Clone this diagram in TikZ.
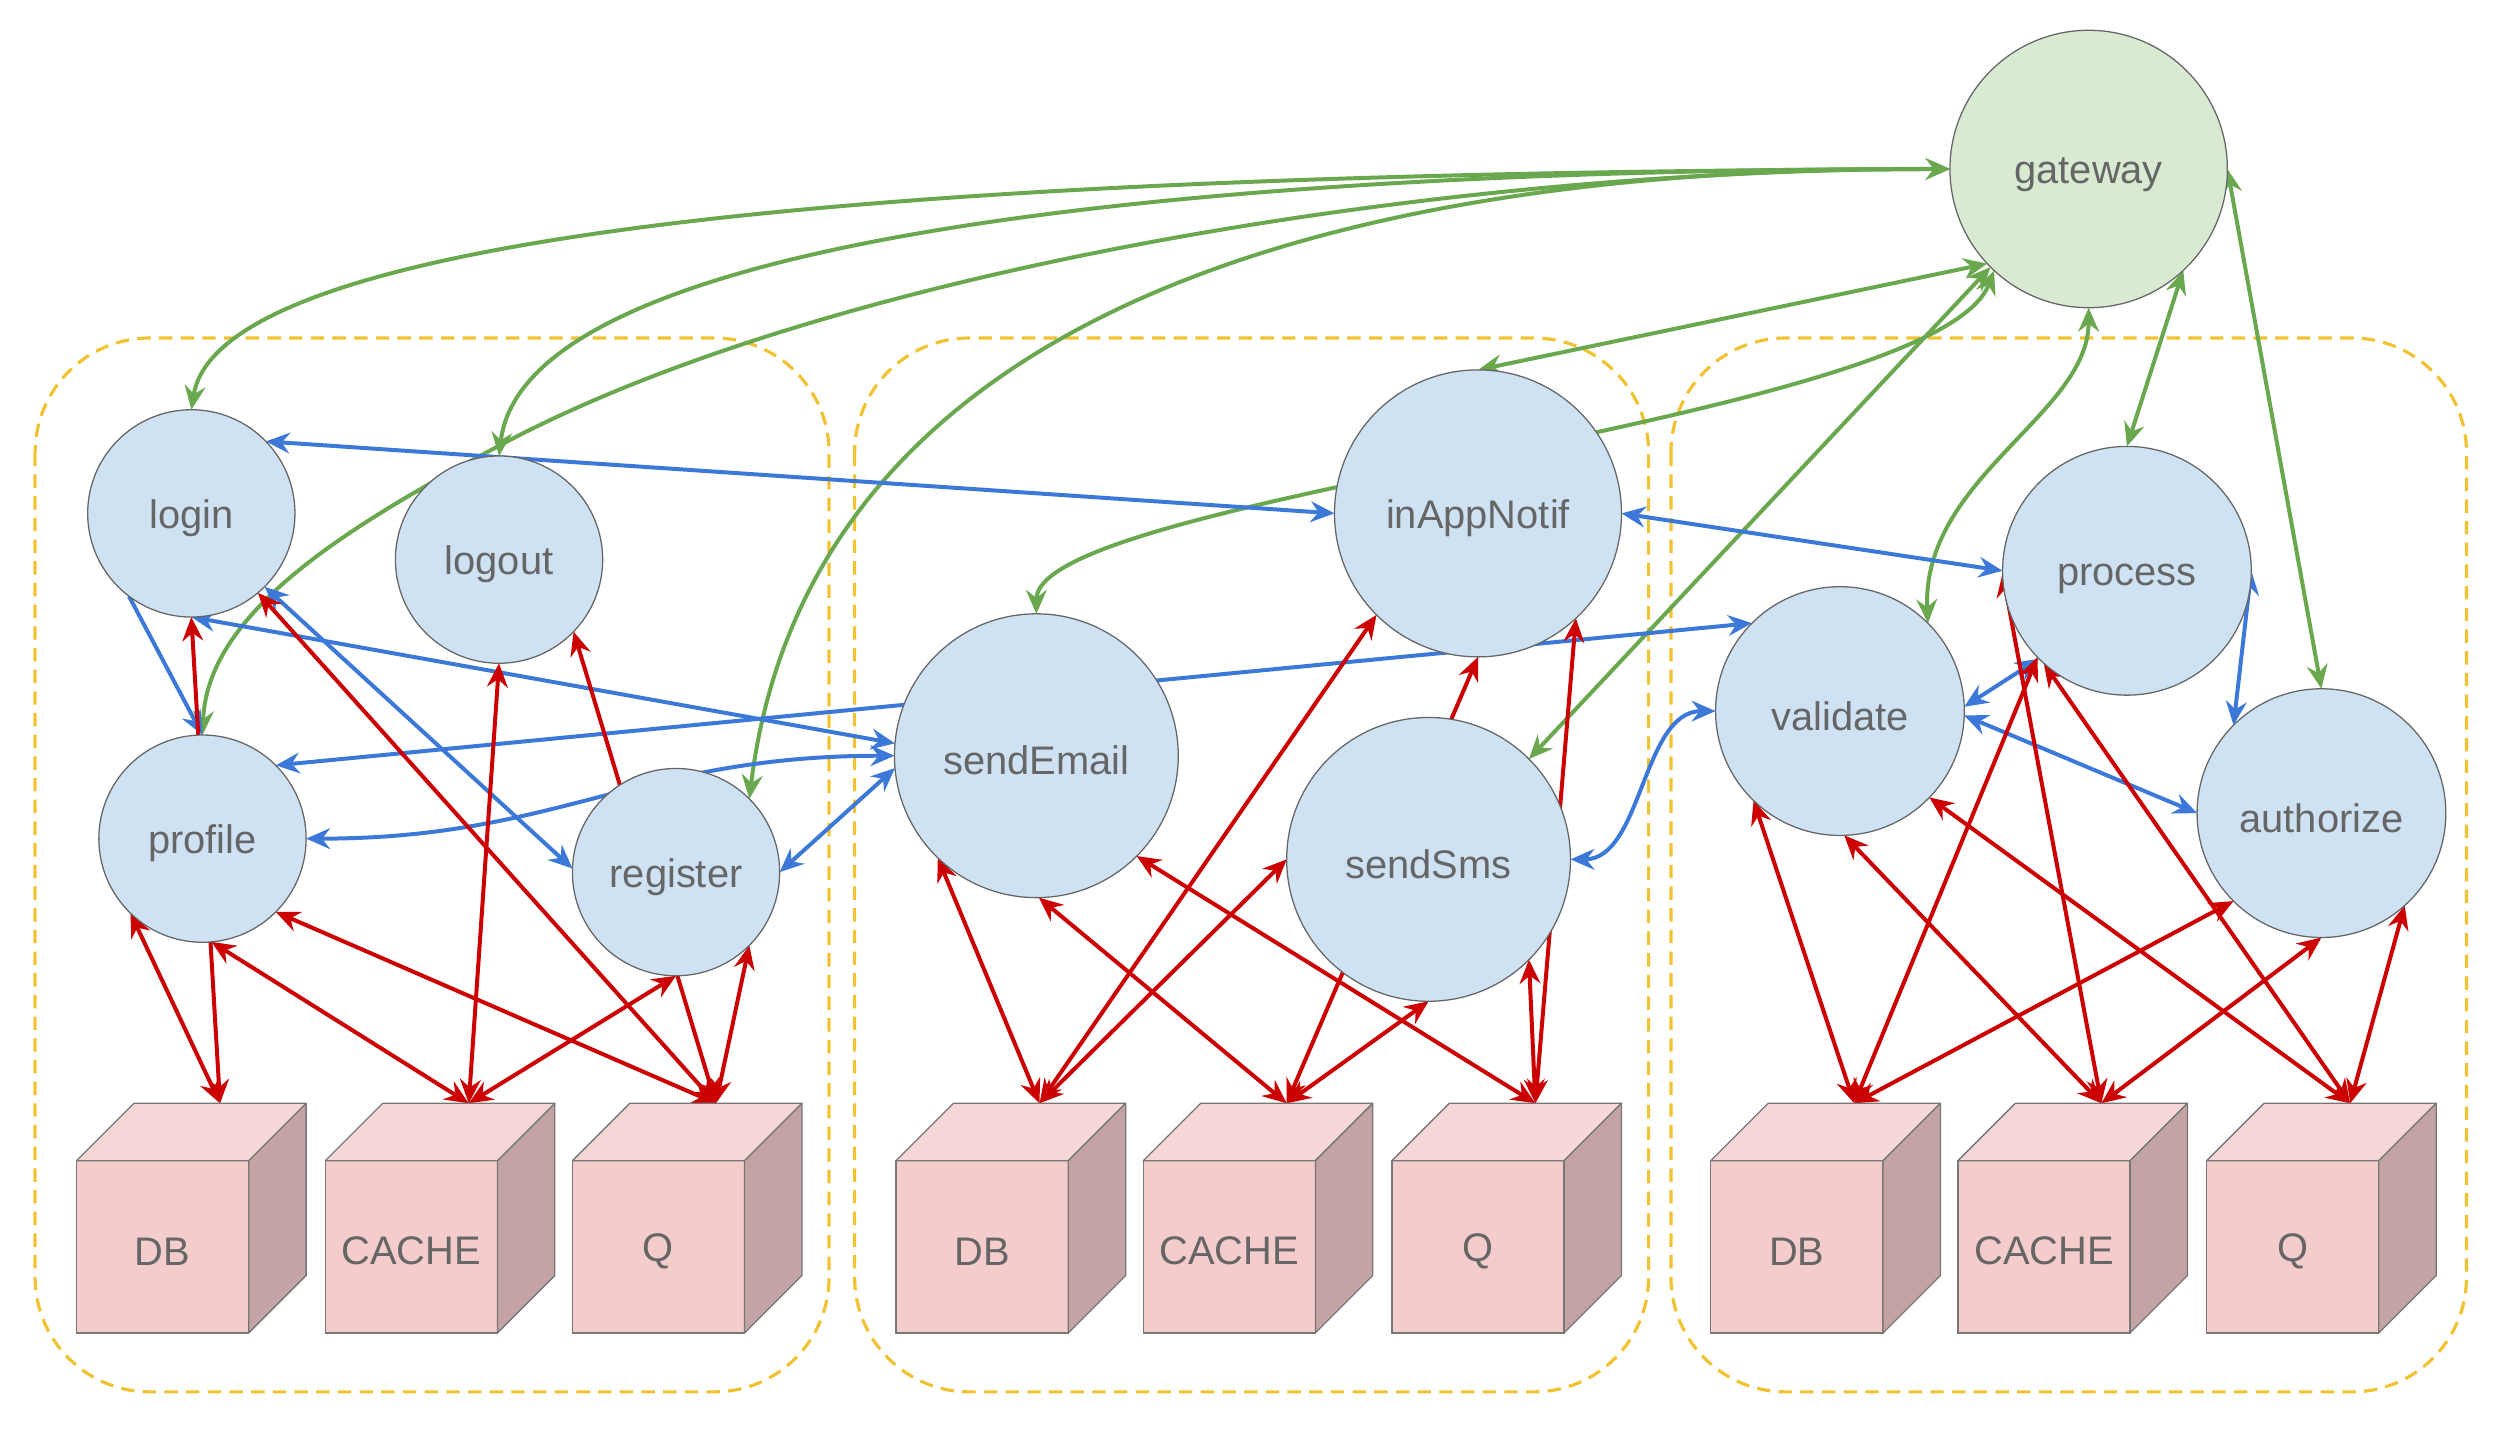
\documentclass[tikz,border=0pt]{standalone}
\usepackage{fontspec}
\setmainfont{Liberation Sans}
\usetikzlibrary{arrows.meta}
\definecolor{redc}{HTML}{CC0000}
\definecolor{bluec}{HTML}{3C78D8}
\definecolor{greenc}{HTML}{6AA84F}
\definecolor{grpc}{HTML}{F1C232}
\definecolor{svcfill}{HTML}{CFE2F3}
\definecolor{gwfill}{HTML}{D9EAD3}
\definecolor{txtc}{HTML}{666666}
\definecolor{cubefront}{HTML}{F4CCCC}
\definecolor{cubetop}{HTML}{F6D7D7}
\definecolor{cubeside}{HTML}{C3A3A4}
\definecolor{cubeline}{HTML}{777777}
\pgfdeclarelayer{bg}
\pgfdeclarelayer{edges}
\pgfsetlayers{bg,edges,main}
\tikzset{
  >={Stealth[length=7.5pt,width=6.5pt,inset=2.5pt]},
  svc/.style={circle, draw=black!60, line width=0.4pt, fill=svcfill, inner sep=0pt, outer sep=0pt,
    text=txtc, font=\fontsize{12.5}{15}\selectfont, text height=12pt},
  grp/.style={draw=grpc, line width=1pt, dash pattern=on 4.2pt off 2.6pt, rounded corners=36pt},
  conn/.style={line width=1.25pt, <->},
  redge/.style={conn, draw=redc},
  bedge/.style={conn, draw=bluec},
  gedge/.style={conn, draw=greenc},
  cubefr/.style={rectangle, draw=cubeline, line width=0.4pt, fill=cubefront, minimum width=54pt,
    minimum height=54pt, inner sep=0pt, outer sep=0pt, text=txtc, font=\fontsize{12.5}{15}\selectfont,
    text height=11.5pt},
  cubeface/.style={draw=cubeline, line width=0.4pt, line join=round}
}
\newcommand\mycube[3]{%
  \node[cubefr] (#1) at (#2+54,782) {#3};
  \filldraw[cubeface, fill=cubetop] (#1.north west) -- ++(36,-36) -- ++(108,0) -- (#1.north east) -- cycle;
  \filldraw[cubeface, fill=cubeside] (#1.north east) -- ++(36,-36) -- ++(0,108) -- (#1.south east) -- cycle;
  \coordinate (#1top) at (#2+90,692);
}
\begin{document}
\begin{tikzpicture}[x=0.5pt,y=-0.5pt]
\useasboundingbox (0,0) rectangle (1568,907.6);

% groups
\begin{pgfonlayer}{bg}
  \draw[grp] (22,212) rectangle (520,873);
  \draw[grp] (536,212) rectangle (1034,873);
  \draw[grp] (1048,212) rectangle (1547,873);
\end{pgfonlayer}

% service nodes
\node[svc, fill=gwfill, minimum size=87pt] (gateway) at (1310,106) {gateway};
\node[svc, minimum size=65pt] (login) at (120,322) {login};
\node[svc, minimum size=65pt] (logout) at (313,351) {logout};
\node[svc, minimum size=65pt] (profile) at (127,526) {profile};
\node[svc, minimum size=65pt] (register) at (424,547) {register};
\node[svc, minimum size=89pt] (sendEmail) at (650,474) {sendEmail};
\node[svc, minimum size=90pt] (inAppNotif) at (927,322) {inAppNotif};
\node[svc, minimum size=89pt] (sendSms) at (896,539) {sendSms};
\node[svc, minimum size=78pt] (validate) at (1154,446) {validate};
\node[svc, minimum size=78pt] (process) at (1334,358) {process};
\node[svc, minimum size=78pt] (authorize) at (1456,510) {authorize};

% data stores
\mycube{db1}{48}{DB}
\mycube{cache1}{204}{CACHE}
\mycube{q1}{359}{Q}
\mycube{db2}{562}{DB}
\mycube{cache2}{717}{CACHE}
\mycube{q2}{873}{Q}
\mycube{db3}{1073}{DB}
\mycube{cache3}{1228}{CACHE}
\mycube{q3}{1384}{Q}

\begin{pgfonlayer}{edges}
% green: gateway links
\draw[gedge] (gateway.180) .. controls (700,108) and (140,130) .. (login.90);
\draw[gedge] (gateway.180) .. controls (800,106) and (330,140) .. (logout.90);
\draw[gedge] (gateway.180) .. controls (900,106) and (520,170) .. (316,278)
                           .. controls (214,332) and (130,385) .. (profile.90);
\draw[gedge] (gateway.180) .. controls (800,104) and (505,215) .. (register.45);
\draw[gedge] (gateway.223) -- (inAppNotif.90);
\draw[gedge] (gateway.225) -- (sendSms.45);
\draw[gedge] (gateway.227) .. controls (1215,265) and (650,310) .. (sendEmail.90);
\draw[gedge] (gateway.270) .. controls (1310,260) and (1205,300) .. (validate.45);
\draw[gedge] (gateway.313) -- (process.90);
\draw[gedge] (gateway.0) -- (authorize.90);

% blue
\draw[bedge] (login.44) -- (inAppNotif.180);
\draw[draw=bluec, line width=1.25pt, ->] (login.233) -- (profile.90);
\draw[bedge] (login.270) -- (sendEmail.175);
\draw[bedge] (login.315) -- (register.178);
\draw[bedge] (profile.45) -- (validate.135);
\draw[bedge] (profile.0) .. controls (350,526) and (400,474) .. (sendEmail.180);
\draw[bedge] (register.0) -- (sendEmail.185);
\draw[bedge] (inAppNotif.0) -- (process.180);
\draw[bedge] (sendSms.0) .. controls (1030,539) and (1030,446) .. (validate.180);
\draw[bedge] (process.225) -- (validate.2);
\draw[bedge] (process.0) -- (authorize.135);
\draw[bedge] (validate.-2) -- (authorize.180);

% red: group 1
\draw[redge] (login.270) -- (db1top);
\draw[redge] (login.310) -- (q1top);
\draw[redge] (profile.226) -- (db1top);
\draw[redge] (profile.275) -- (cache1top);
\draw[redge] (profile.315) -- (q1top);
\draw[redge] (logout.270) -- (cache1top);
\draw[redge] (logout.316) -- (q1top);
\draw[redge] (register.270) -- (cache1top);
\draw[redge] (register.315) -- (q1top);
% red: group 2
\draw[redge] (sendEmail.226) -- (db2top);
\draw[redge] (sendEmail.271) -- (cache2top);
\draw[redge] (sendEmail.315) -- (q2top);
\draw[redge] (inAppNotif.225) -- (db2top);
\draw[redge] (inAppNotif.270) -- (cache2top);
\draw[redge] (inAppNotif.313) -- (q2top);
\draw[redge] (sendSms.180) -- (db2top);
\draw[redge] (sendSms.270) -- (cache2top);
\draw[redge] (sendSms.315) -- (q2top);
% red: group 3
\draw[redge] (validate.226) -- (db3top);
\draw[redge] (validate.272) -- (cache3top);
\draw[redge] (validate.316) -- (q3top);
\draw[redge] (process.181) -- (cache3top);
\draw[redge] (process.224) -- (db3top);
\draw[redge] (process.228) -- (q3top);
\draw[redge] (authorize.225) -- (db3top);
\draw[redge] (authorize.270) -- (cache3top);
\draw[redge] (authorize.312) -- (q3top);
\end{pgfonlayer}
\end{tikzpicture}
\end{document}
